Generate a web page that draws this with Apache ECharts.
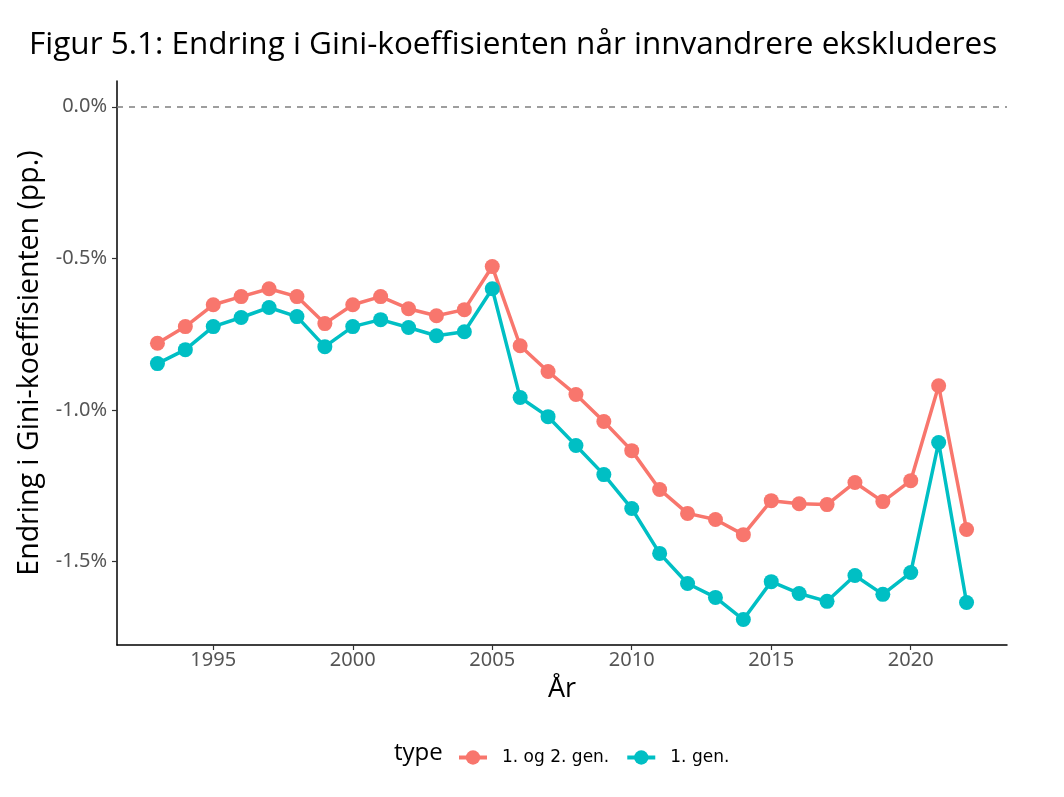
<!DOCTYPE html>
<html><head><meta charset="utf-8">
<script src="https://cdn.jsdelivr.net/npm/echarts@6/dist/echarts.min.js"></script>
<style>html,body{margin:0;padding:0;background:#fff}#c{width:1064px;height:797px}</style>
</head><body><div id="c"></div>
<script>
const years = [1993,1994,1995,1996,1997,1998,1999,2000,2001,2002,2003,2004,2005,2006,2007,2008,2009,2010,2011,2012,2013,2014,2015,2016,2017,2018,2019,2020,2021,2022];
const gen12 = [-0.78,-0.725,-0.653,-0.626,-0.600,-0.626,-0.715,-0.653,-0.626,-0.666,-0.689,-0.669,-0.527,-0.788,-0.873,-0.949,-1.038,-1.134,-1.262,-1.341,-1.361,-1.411,-1.299,-1.309,-1.312,-1.239,-1.302,-1.233,-0.920,-1.394];
const gen1 = [-0.847,-0.801,-0.725,-0.695,-0.662,-0.692,-0.791,-0.725,-0.702,-0.728,-0.755,-0.742,-0.600,-0.959,-1.022,-1.117,-1.213,-1.325,-1.473,-1.572,-1.618,-1.691,-1.566,-1.605,-1.631,-1.546,-1.608,-1.536,-1.107,-1.635];
const xTicks = [1995,2000,2005,2010,2015,2020];
const yTicks = [0,-0.5,-1.0,-1.5];
const seriesNames = ['1. og 2. gen.','1. gen.'];
const colors = ['#F8766D','#00BFC4'];

const chart = echarts.init(document.getElementById('c'));
const mk = (name, vals, color, extra) => Object.assign({
  name, type:'line', data: years.map((y,i)=>[y, vals[i]]),
  symbol:'circle', symbolSize:15, color,
  lineStyle:{width:3.5, color}, itemStyle:{color},
  emphasis:{disabled:true}, z:3
}, extra||{});
chart.setOption({
  animation:false,
  title:{text:'Figur 5.1: Endring i Gini-koeffisienten når innvandrere ekskluderes', left:24, top:24,
    textStyle:{fontFamily:'Open Sans', fontSize:31.5, fontWeight:'normal', color:'#000'}},
  grid:{left:117, right:57, top:81, bottom:152, containLabel:false},
  xAxis:{type:'value', min:1991.55, max:2023.45, name:'År', nameLocation:'middle', nameGap:31,
    nameTextStyle:{fontFamily:'Open Sans', fontSize:27, color:'#000'},
    axisLine:{show:true, onZero:false, lineStyle:{color:'#000', width:1.5}},
    axisTick:{show:true, customValues:xTicks, length:5, lineStyle:{color:'#333', width:1.2}},
    axisLabel:{customValues:xTicks, fontFamily:'Noto Sans', fontSize:20, color:'#555', margin:5,
      formatter:v=>String(v)},
    splitLine:{show:false}},
  yAxis:{type:'value', min:-1.775, max:0.085, name:'Endring i Gini-koeffisienten (pp.)', nameLocation:'middle', nameGap:70,
    nameTextStyle:{fontFamily:'Open Sans', fontSize:28.5, color:'#000'},
    axisLine:{show:true, onZero:false, lineStyle:{color:'#000', width:1.5}},
    axisTick:{show:true, customValues:yTicks, length:5, lineStyle:{color:'#333', width:1.2}},
    axisLabel:{customValues:yTicks, fontFamily:'Noto Sans', fontSize:20, color:'#555', margin:10,
      formatter:v=>v.toFixed(1)+'%'},
    splitLine:{show:false}},
  legend:{left:452, top:744, itemWidth:28, itemHeight:18, itemGap:16,
    data:seriesNames, lineStyle:{width:4},
    textStyle:{fontFamily:'DejaVu Sans', fontSize:17, color:'#000', padding:[0,0,0,10]}},
  graphic:[{type:'text', left:394, top:741, style:{text:'type', fontFamily:'Open Sans', fontSize:24, fill:'#000'}}],
  series:[
    mk(seriesNames[0], gen12, colors[0], {markLine:{silent:true, symbol:['none','none'], label:{show:false},
      lineStyle:{type:[6,6], color:'#7f7f7f', width:1.5}, data:[{yAxis:0}]}}),
    mk(seriesNames[1], gen1, colors[1])
  ]
});
</script></body></html>
